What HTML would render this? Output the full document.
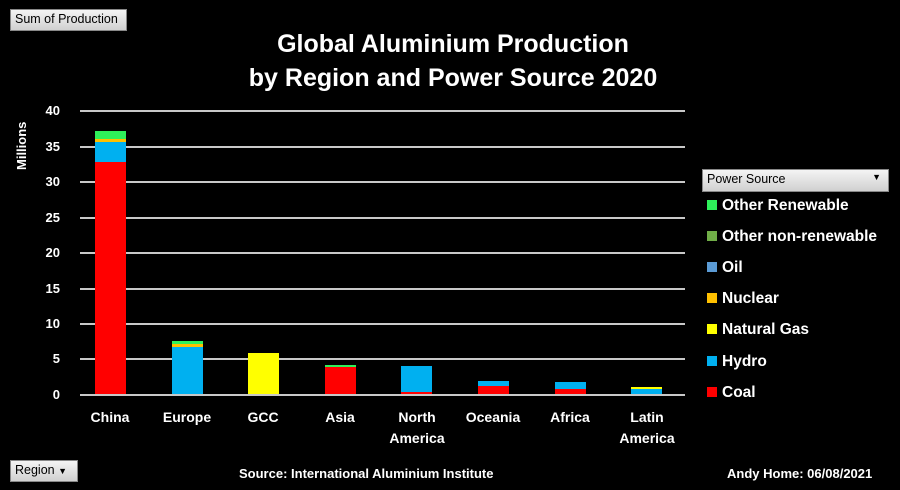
<!DOCTYPE html>
<html><head><style>
body{margin:0;width:900px;height:490px;background:#000;position:relative;overflow:hidden;font-family:"Liberation Sans",sans-serif;color:#fff}
.a{position:absolute}
.g{position:absolute;left:80px;width:605px;height:2px;background:#c8c8c8}
.yl{position:absolute;left:30px;width:30px;text-align:right;font-size:13px;font-weight:bold}
.b{position:absolute;width:31px}
.xl{position:absolute;width:90px;text-align:center;font-size:14px;font-weight:bold;line-height:21px}
.lg{position:absolute;left:707px;font-size:15.5px;font-weight:bold}
.lg i{display:inline-block;width:10px;height:10px;margin-right:5px;vertical-align:0}
.btn{position:absolute;background:linear-gradient(#f4f4f4,#d0d0d0);color:#000;font-size:12.5px;border:1px solid #888;box-sizing:border-box;padding:2px 4px}
</style></head><body>
<div class="btn" style="left:10px;top:9px;width:117px;height:22px">Sum of Production</div>
<div class="btn" style="left:702px;top:169px;width:187px;height:23px">Power Source<span style="position:absolute;right:7px;top:2px;font-size:9px">▼</span></div>
<div class="btn" style="left:10px;top:460px;width:68px;height:22px">Region <span style="font-size:9px">▼</span></div>
<div class="a" style="left:0;top:27px;width:906px;text-align:center;font-size:25px;font-weight:bold;line-height:34px">Global Aluminium Production<br>by Region and Power Source 2020</div>
<div class="a" style="left:14px;top:170px;transform:rotate(-90deg);transform-origin:0 0;font-size:13px;font-weight:bold">Millions</div>
<div class="g" style="top:110px"></div><div class="g" style="top:146px"></div><div class="g" style="top:181px"></div><div class="g" style="top:217px"></div><div class="g" style="top:252px"></div><div class="g" style="top:288px"></div><div class="g" style="top:323px"></div><div class="g" style="top:358px"></div><div class="g" style="top:394px"></div>
<div class="yl" style="top:103px">40</div><div class="yl" style="top:139px">35</div><div class="yl" style="top:174px">30</div><div class="yl" style="top:210px">25</div><div class="yl" style="top:245px">20</div><div class="yl" style="top:281px">15</div><div class="yl" style="top:316px">10</div><div class="yl" style="top:351px">5</div><div class="yl" style="top:387px">0</div>
<div class="b" style="left:95px;top:131px;height:8px;background:#2ef05a"></div>
<div class="b" style="left:95px;top:139px;height:3px;background:#ffc000"></div>
<div class="b" style="left:95px;top:142px;height:20px;background:#00b0f0"></div>
<div class="b" style="left:95px;top:162px;height:232px;background:#f00"></div>
<div class="b" style="left:172px;top:341px;height:3px;background:#2ef05a"></div>
<div class="b" style="left:172px;top:344px;height:3px;background:#ffc000"></div>
<div class="b" style="left:172px;top:347px;height:47px;background:#00b0f0"></div>
<div class="b" style="left:248px;top:353px;height:41px;background:#ff0"></div>
<div class="b" style="left:325px;top:365px;height:2px;background:#2ef05a"></div>
<div class="b" style="left:325px;top:367px;height:27px;background:#f00"></div>
<div class="b" style="left:401px;top:366px;height:26px;background:#00b0f0"></div>
<div class="b" style="left:401px;top:392px;height:2px;background:#f00"></div>
<div class="b" style="left:478px;top:381px;height:5px;background:#00b0f0"></div>
<div class="b" style="left:478px;top:386px;height:8px;background:#f00"></div>
<div class="b" style="left:555px;top:382px;height:7px;background:#00b0f0"></div>
<div class="b" style="left:555px;top:389px;height:5px;background:#f00"></div>
<div class="b" style="left:631px;top:387px;height:2px;background:#ff0"></div>
<div class="b" style="left:631px;top:389px;height:5px;background:#00b0f0"></div>
<div class="xl" style="left:65px;top:407px">China</div>
<div class="xl" style="left:142px;top:407px">Europe</div>
<div class="xl" style="left:218px;top:407px">GCC</div>
<div class="xl" style="left:295px;top:407px">Asia</div>
<div class="xl" style="left:372px;top:407px">North<br>America</div>
<div class="xl" style="left:448px;top:407px">Oceania</div>
<div class="xl" style="left:525px;top:407px">Africa</div>
<div class="xl" style="left:602px;top:407px">Latin<br>America</div>
<div class="lg" style="top:197px"><i style="background:#2ef05a"></i>Other Renewable</div>
<div class="lg" style="top:228px"><i style="background:#70ad47"></i>Other non-renewable</div>
<div class="lg" style="top:259px"><i style="background:#5b9bd5"></i>Oil</div>
<div class="lg" style="top:290px"><i style="background:#ffc000"></i>Nuclear</div>
<div class="lg" style="top:321px"><i style="background:#ff0"></i>Natural Gas</div>
<div class="lg" style="top:353px"><i style="background:#00b0f0"></i>Hydro</div>
<div class="lg" style="top:384px"><i style="background:#f00"></i>Coal</div>
<div class="a" style="left:239px;top:466px;font-size:13px;font-weight:bold">Source: International Aluminium Institute</div>
<div class="a" style="left:727px;top:466px;font-size:13px;font-weight:bold">Andy Home: 06/08/2021</div>
</body></html>
